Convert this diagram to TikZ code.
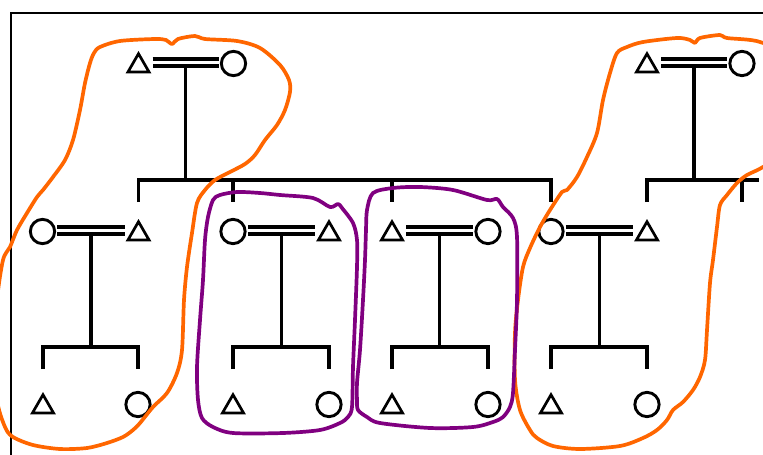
\documentclass[tikz,border=0pt]{standalone}
\usetikzlibrary{calc}
\definecolor{orng}{HTML}{FF6600}
\definecolor{purp}{HTML}{800080}
\begin{document}
\begin{tikzpicture}[x=1pt,y=-1pt,
  ln/.style={line width=3.8pt},
  dbl/.style={line width=3.7pt, double=white, double distance=3.5pt},
  circ/.style={circle, draw, line width=2.9pt, minimum size=24.3pt, inner sep=0pt, outer sep=2.7pt},
  tri/.style={rectangle, minimum width=28pt, minimum height=28pt, inner sep=0pt, outer sep=0pt},
  trishape/.style={line width=2.7pt, line join=miter},
  frame/.style={line width=1.6pt},
  orangeloop/.style={draw=orng, line width=3.7pt, line join=round},
  purpleloop/.style={draw=purp, line width=3.7pt, line join=round},
]
\useasboundingbox (0,0) rectangle (763,455);
\clip (0,0) rectangle (763,455);
\draw[frame] (11,470) -- (11,13) -- (780,13);

% persons
\node[tri]  (T1) at (138.5,63.5) {};
\node[circ] (C1) at (233.5,63.5) {};
\node[tri]  (T2) at (647,63.5) {};
\node[circ] (C2) at (742,63.5) {};
\coordinate (XE) at (742,231.5);
\node[circ] (CA) at (42.5,231.5) {};
\node[tri]  (TA) at (138.5,231.5) {};
\node[circ] (CB) at (233,231.5) {};
\node[tri]  (TB) at (329,231.5) {};
\node[tri]  (TC) at (392,231.5) {};
\node[circ] (CC) at (488,231.5) {};
\node[circ] (CD) at (551,231.5) {};
\node[tri]  (TD) at (647,231.5) {};
\node[tri]  (KA1) at (43,404.5) {};
\node[circ] (KA2) at (138,404.5) {};
\node[tri]  (KB1) at (233,404.5) {};
\node[circ] (KB2) at (329,404.5) {};
\node[tri]  (KC1) at (392,404.5) {};
\node[circ] (KC2) at (488,404.5) {};
\node[tri]  (KD1) at (551,404.5) {};
\node[circ] (KD2) at (647,404.5) {};

\foreach \n in {T1,T2,TA,TB,TC,TD,KA1,KB1,KC1,KD1}
  \draw[trishape] ($(\n)+(0,-9.8)$) -- ($(\n)+(10.5,8.4)$) -- ($(\n)+(-10.5,8.4)$) -- cycle;

% top couples
\draw[dbl] ([yshift=1pt]T1.east) -- ([yshift=1pt]C1.west);
\draw[ln] ($(T1.east)!.5!(C1.west)+(0,2.6)$) -- ++(0,114);
\draw[ln] ($(TA)+(0,-29.5)$) -- ($(TA)+(0,-51.5)$) -- ($(CD)+(0,-51.5)$) -- ($(CD)+(0,-29.5)$);
\draw[ln] ($(CB)+(0,-51.5)$) -- ($(CB)+(0,-29.5)$);
\draw[ln] ($(TC)+(0,-51.5)$) -- ($(TC)+(0,-29.5)$);

\draw[dbl] ([yshift=1pt]T2.east) -- ([yshift=1pt]C2.west);
\draw[ln] ($(T2.east)!.5!(C2.west)+(0,2.6)$) -- ++(0,114);
\draw[ln] ($(TD)+(0,-29.5)$) -- ($(TD)+(0,-51.5)$) -- ++(112,0);
\draw[ln] ($(XE)+(0,-51.5)$) -- ($(XE)+(0,-29.5)$);

% second-row couples
\foreach \l/\r/\a/\b in {CA/TA/KA1/KA2, CB/TB/KB1/KB2, TC/CC/KC1/KC2, CD/TD/KD1/KD2} {
  \draw[dbl] ([yshift=1pt]\l.east) -- ([yshift=1pt]\r.west);
  \draw[ln] ($(\l.east)!.5!(\r.west)+(0,2.6)$) -- ++(0,113);
  \draw[ln] ($(\a)+(0,-35.5)$) -- ($(\a)+(0,-57.5)$) -- ($(\b)+(0,-57.5)$) -- ($(\b)+(0,-35.5)$);
}

% loops
\draw[orangeloop] plot[smooth cycle, tension=0.5] coordinates {
 (94,53) (100,47) (120,41) (155,39) (166,40) (172,44) (178,39) (195,36) (205,39) (237,41) (260,48) (280,65) (289,80) (290,92) (285,110) (277,125) (265,140) (255,155) (245,164) (230,172) (215,180) (205,190) (197,203) (192,233) (187,267) (184,300) (182,350) (177,373) (167,393) (153,407) (140,423) (133,430) (123,437) (107,443) (87,448) (60,449) (33,445) (13,437) (5,427) (-3,400) (-5,350) (-3,300) (3,260) (10,247) (17,230) (27,213) (37,197) (43,190) (53,177) (65,160) (73,140) (80,110) (85,83) (90,63)};
\draw[orangeloop] plot[smooth cycle, tension=0.5] coordinates {
 (617,53) (627,47) (643,42) (677,38) (690,40) (695,43) (700,38) (720,35) (727,38) (760,42) (785,60) (785,150) (763,167) (747,175) (737,183) (727,195) (720,205) (717,227) (713,260) (710,283) (707,330) (705,360) (700,377) (693,390) (683,402) (673,410) (667,420) (657,430) (643,438) (620,446) (580,449) (553,446) (537,438) (530,430) (520,410) (515,380) (515,333) (518,300) (523,267) (530,248) (540,227) (550,210) (562,192) (567,190) (577,177) (587,157) (597,133) (603,100) (610,73)};
\draw[purpleloop] plot[smooth cycle, tension=0.5] coordinates {
 (208,217) (213,200) (220,195) (237,192) (260,193) (280,195) (313,198) (330,207) (338,204) (342,208) (353,223) (357,240) (357,267) (355,320) (353,367) (352,407) (348,417) (340,423) (320,430) (283,433) (233,433) (213,427) (202,418) (198,400) (197,367) (200,320) (203,280) (205,240)};
\draw[purpleloop] plot[smooth cycle, tension=0.5] coordinates {
 (367,210) (373,193) (393,188) (420,187) (453,190) (487,200) (497,199) (503,207) (513,218) (517,237) (517,300) (515,350) (513,393) (510,407) (503,417) (493,422) (473,427) (430,428) (380,423) (367,417) (358,410) (357,400) (357,383) (360,350) (363,300) (365,260) (366,230)};
\end{tikzpicture}
\end{document}
